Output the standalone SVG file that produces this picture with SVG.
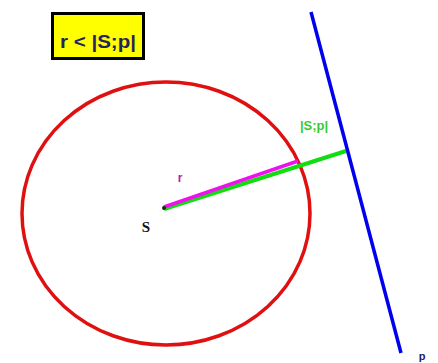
<svg xmlns="http://www.w3.org/2000/svg" width="438" height="363" viewBox="0 0 438 363">
<style>
.lbl{font-family:"Liberation Sans",Arial,sans-serif;font-weight:bold}
.ln{fill:none;stroke-linecap:butt}
</style>
<rect width="438" height="363" fill="#ffffff"/>
<g id="circle">
<ellipse cx="166" cy="213.5" rx="144" ry="131.5" fill="none" stroke="#e01010" stroke-width="3.5"/>
</g>
<g id="connectors">
<line class="ln" x1="164" y1="209" x2="346" y2="151" stroke="#11dd11" stroke-width="4"/>
<line class="ln" x1="164" y1="207" x2="298" y2="161" stroke="#ee11ee" stroke-width="3.5"/>
<line class="ln" x1="311" y1="12" x2="401" y2="353" stroke="#0000ee" stroke-width="3.5"/>
<circle cx="164" cy="208" r="2" fill="#222222"/>
</g>
<g id="condition">
<rect x="52.5" y="13.5" width="91" height="45" fill="#ffff00" stroke="#000000" stroke-width="3"/>
<text class="lbl" x="98" y="48" font-size="18" fill="#25255e" text-anchor="middle" textLength="76" lengthAdjust="spacingAndGlyphs">r &lt; |S;p|</text>
</g>
<g id="label-S">
<text x="146" y="232" font-family="'Liberation Serif','Times New Roman',serif" font-size="15" font-weight="bold" fill="#111111" text-anchor="middle">S</text>
</g>
<g id="label-r">
<text class="lbl" x="180" y="182" font-size="12" fill="#aa22aa" text-anchor="middle">r</text>
</g>
<g id="label-dist">
<text class="lbl" x="314" y="130" font-size="13" fill="#33cc33" text-anchor="middle">|S;p|</text>
</g>
<g id="label-p">
<text class="lbl" x="422" y="360" font-size="11" fill="#1a1a66" text-anchor="middle">p</text>
</g>
</svg>
